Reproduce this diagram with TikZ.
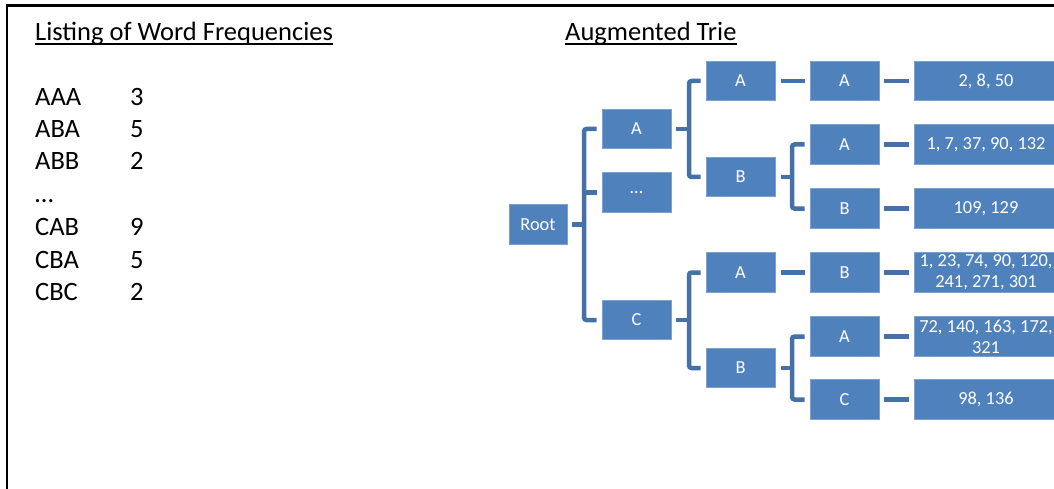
\documentclass[tikz,border=0pt]{standalone}
\usepackage{fontspec}
\setmainfont{Carlito}
\definecolor{boxfill}{RGB}{79,129,189}
\definecolor{boxedge}{RGB}{125,160,205}
\definecolor{conncol}{RGB}{68,114,166}
\tikzset{
  trie/.style={fill=boxfill, draw=boxedge, line width=0.6pt, inner sep=0pt, text=white,
    minimum width=69, minimum height=39.5, font=\fontsize{18.4}{21}\selectfont, align=center},
  rootbox/.style={trie, minimum width=58},
  leafbox/.style={trie, minimum width=144},
  conn/.style={draw=conncol, line width=4.5pt, rounded corners=2.5pt},
  listtxt/.style={anchor=base west, inner sep=0pt, font=\fontsize{26.5}{30}\selectfont},
}
\begin{document}
\begin{tikzpicture}[x=1pt,y=-1pt]
\useasboundingbox (0,0) rectangle (1054,489);
\clip (0,0) rectangle (1054,489);
\fill[white] (0,0) rectangle (1054,489);
% frame
\draw[line width=2.5pt] (7,600) -- (7,5.3) -- (1200,5.3);
% titles
\node[listtxt] (t1) at (35,41) {Listing of Word Frequencies};
\draw[line width=1.8pt] ([yshift=-3.2pt]t1.base west) -- ([yshift=-3.2pt]t1.base east);
\node[listtxt] (t2) at (565,41) {Augmented Trie};
\draw[line width=1.8pt] ([yshift=-3.2pt]t2.base west) -- ([yshift=-3.2pt]t2.base east);
% list
\node[listtxt] (w1) at (35,106) {AAA}; \node[listtxt] (n1) at (130,106) {3};
\node[listtxt] (w2) at (35,138) {ABA}; \node[listtxt] (n2) at (130,138) {5};
\node[listtxt] (w3) at (35,170) {ABB}; \node[listtxt] (n3) at (130,170) {2};
\node[listtxt] (w4) at (35,203) {…};
\node[listtxt] (w5) at (35,235) {CAB}; \node[listtxt] (n5) at (130,235) {9};
\node[listtxt] (w6) at (35,268) {CBA}; \node[listtxt] (n6) at (130,268) {5};
\node[listtxt] (w7) at (35,300) {CBC}; \node[listtxt] (n7) at (130,300) {2};
% trie nodes
\node[rootbox] (root) at (538,224.5) {Root};
\node[trie] (A) at (636.5,129) {A};
\node[trie] (D) at (636.5,192.5) {…};
\node[trie] (C) at (636.5,320) {C};
\node[trie] (AA) at (740.5,81) {A};
\node[trie] (AB) at (740.5,177) {B};
\node[trie] (CA) at (740.5,272.5) {A};
\node[trie] (CB) at (740.5,368) {B};
\node[trie] (AAA) at (844.5,81) {A};
\node[trie] (ABA) at (844.5,144.5) {A};
\node[trie] (ABB) at (844.5,208.5) {B};
\node[trie] (CAB) at (844.5,272.5) {B};
\node[trie] (CBA) at (844.5,336.5) {A};
\node[trie] (CBC) at (844.5,399.5) {C};
\node[leafbox] (L1) at (986,81) {2, 8, 50};
\node[leafbox] (L2) at (986,144.5) {1, 7, 37, 90, 132};
\node[leafbox] (L3) at (986,208.5) {109, 129};
\node[leafbox] (L4) at (986,272.5) {1, 23, 74, 90, 120,\\241, 271, 301};
\node[leafbox] (L5) at (986,336.5) {72, 140, 163, 172,\\321};
\node[leafbox] (L6) at (986,399.5) {98, 136};
% bracket coordinates
\coordinate (bR) at (584,224.5);
\coordinate (bA) at (689,129);
\coordinate (bC) at (689,320);
\coordinate (bAB) at (792,177);
\coordinate (bCB) at (792,368);
% root bracket
\draw[conn] ([xshift=5pt]root.east) -- (bR);
\draw[conn] ([xshift=-5pt]A.west) -| (bR) |- ([xshift=-5pt]C.west);
\draw[conn] (bR |- D.west) -- ([xshift=-5pt]D.west);
% A bracket
\draw[conn] ([xshift=5pt]A.east) -- (bA);
\draw[conn] ([xshift=-5pt]AA.west) -| (bA) |- ([xshift=-5pt]AB.west);
% C bracket
\draw[conn] ([xshift=5pt]C.east) -- (bC);
\draw[conn] ([xshift=-5pt]CA.west) -| (bC) |- ([xshift=-5pt]CB.west);
% AB bracket
\draw[conn] ([xshift=5.5pt]AB.east) -- (bAB);
\draw[conn] ([xshift=-5pt]ABA.west) -| (bAB) |- ([xshift=-5pt]ABB.west);
% CB bracket
\draw[conn] ([xshift=5.5pt]CB.east) -- (bCB);
\draw[conn] ([xshift=-5pt]CBA.west) -| (bCB) |- ([xshift=-5pt]CBC.west);
% straight links
\draw[conn] ([xshift=5.5pt]AA.east) -- ([xshift=-5pt]AAA.west);
\draw[conn] ([xshift=5.5pt]CA.east) -- ([xshift=-5pt]CAB.west);
\draw[conn] ([xshift=5pt]AAA.east) -- ([xshift=-5pt]L1.west);
\draw[conn] ([xshift=5pt]ABA.east) -- ([xshift=-5pt]L2.west);
\draw[conn] ([xshift=5pt]ABB.east) -- ([xshift=-5pt]L3.west);
\draw[conn] ([xshift=5pt]CAB.east) -- ([xshift=-5pt]L4.west);
\draw[conn] ([xshift=5pt]CBA.east) -- ([xshift=-5pt]L5.west);
\draw[conn] ([xshift=5pt]CBC.east) -- ([xshift=-5pt]L6.west);
\end{tikzpicture}
\end{document}
